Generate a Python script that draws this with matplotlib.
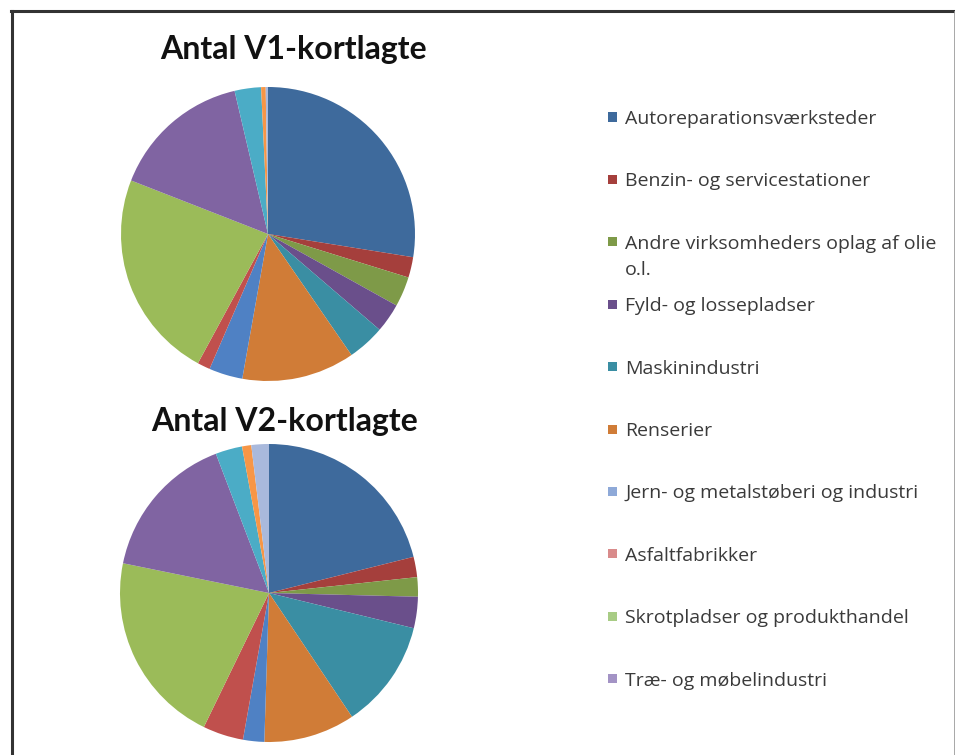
import matplotlib
matplotlib.use("Agg")
import matplotlib.pyplot as plt
from matplotlib.patches import Rectangle
from matplotlib.lines import Line2D

# legend shows only the first ten categories (the Excel legend is cut off)
legend_labels = [
    "Autoreparationsværksteder",
    "Benzin- og servicestationer",
    "Andre virksomheders oplag af olie\no.l.",
    "Fyld- og lossepladser",
    "Maskinindustri",
    "Renserier",
    "Jern- og metalstøberi og industri",
    "Asfaltfabrikker",
    "Skrotpladser og produkthandel",
    "Træ- og møbelindustri",
]

slice_colors = [
    "#3e6a9c", "#a53f3c", "#7e9a48", "#6a4f8b", "#3a8ea3", "#d07c37",
    "#4f81c4", "#c0504d", "#9bbb59", "#8064a2", "#4bacc6", "#f79646",
    "#a9b9dc",
]
# legend squares look lighter than the slices for the last four entries
legend_colors = slice_colors[:6] + ["#8ea9d8", "#d98b8b", "#a8cc85", "#a393c5"]

# shares in percent, clockwise from 12 o'clock
v1_values = [27.5, 2.25, 3.3, 3.2, 4.1, 12.4, 3.7, 1.4, 23.0, 15.4, 2.9, 0.5, 0.25]
v2_values = [21.1, 2.2, 2.1, 3.4, 11.8, 9.9, 2.3, 4.4, 21.0, 16.0, 2.9, 1.0, 1.9]

titles = ["Antal V1-kortlagte", "Antal V2-kortlagte"]

W, H = 955, 755
fig = plt.figure(figsize=(W / 100, H / 100), dpi=100)
fig.patch.set_facecolor("white")


def fx(x):
    return x / W


def fy(y):
    return (H - y) / H


def pie_axes(cx, cy, r):
    return fig.add_axes([fx(cx - r), fy(cy + r), 2 * r / W, 2 * r / H])


ax1 = pie_axes(268, 234, 147)
ax2 = pie_axes(269, 593, 149)

for ax, vals in [(ax1, v1_values), (ax2, v2_values)]:
    ax.pie(vals, colors=slice_colors, startangle=90, counterclock=False,
           wedgeprops=dict(linewidth=0))
    ax.set_xlim(-1, 1)
    ax.set_ylim(-1, 1)
    ax.set_aspect("equal")

title_font = ["Lato", "DejaVu Sans"]
fig.text(fx(293), fy(50), titles[0], ha="center", va="center", fontsize=23,
         fontweight="bold", family=title_font, color="#111111")
fig.text(fx(285), fy(422), titles[1], ha="center", va="center", fontsize=23,
         fontweight="bold", family=title_font, color="#111111")

# manual legend, evenly spaced like the original
for i, label in enumerate(legend_labels):
    yc = 117 + i * 62.4
    fig.patches.append(Rectangle((fx(608), fy(yc + 4.5)), 9 / W, 9 / H,
                                 transform=fig.transFigure, facecolor=legend_colors[i],
                                 edgecolor="none"))
    fig.text(fx(625), fy(yc - 7), label, ha="left", va="top", fontsize=14,
             family=["Open Sans", "DejaVu Sans"], color="#3a3a3a", linespacing=1.6)

# frame around the screenshot
fig.lines.append(Line2D([fx(11), fx(955)], [fy(11), fy(11)], transform=fig.transFigure,
                        color="#333333", linewidth=2.2))
fig.lines.append(Line2D([fx(12), fx(12)], [fy(11), fy(755)], transform=fig.transFigure,
                        color="#333333", linewidth=2.2))
fig.lines.append(Line2D([fx(954), fx(954)], [fy(11), fy(755)], transform=fig.transFigure,
                        color="#999999", linewidth=0.6))

fig.savefig("out.png", dpi=100, facecolor="white")
